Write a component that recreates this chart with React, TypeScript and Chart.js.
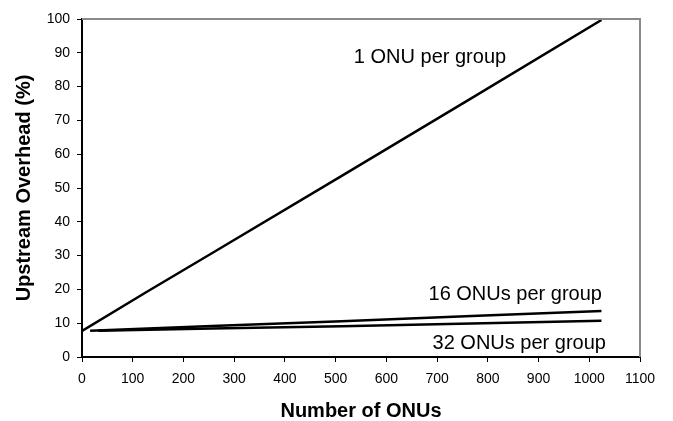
import React, { useEffect, useRef } from "react";
import { Chart, registerables } from "chart.js";

Chart.register(...registerables);

const seriesNames = ["1 ONU per group", "16 ONUs per group", "32 ONUs per group"];
const onuCounts1 = [1, 128, 256, 512, 768, 1024];
const overhead1 = [7.8, 19.3, 30.7, 53.6, 76.6, 99.7];
const onuCounts16 = [16, 256, 512, 768, 1024];
const overhead16 = [7.8, 9.2, 10.6, 12.1, 13.6];
const onuCounts32 = [32, 256, 512, 768, 1024];
const overhead32 = [7.8, 8.4, 9.1, 9.9, 10.7];
// label anchor points (data coordinates) for in-chart series labels
const labelX = [686, 854, 862];
const labelY = [87.1, 17.0, 2.5];

const xTicksMax = 1100;
const yTicksMax = 100;

const FONT = "'Liberation Sans', Arial, sans-serif";

const toPoints = (xs: number[], ys: number[]) => xs.map((x, i) => ({ x, y: ys[i] }));

const framePlugin = {
  id: "frameAndLabels",
  afterDatasetsDraw(chart: any) {
    const { ctx, chartArea, scales } = chart;
    ctx.save();
    ctx.strokeStyle = "#8a8a8a";
    ctx.lineWidth = 2;
    ctx.beginPath();
    ctx.moveTo(chartArea.left, chartArea.top);
    ctx.lineTo(chartArea.right, chartArea.top);
    ctx.lineTo(chartArea.right, chartArea.bottom);
    ctx.stroke();
    ctx.fillStyle = "#000";
    ctx.font = `20px ${FONT}`;
    ctx.textAlign = "center";
    ctx.textBaseline = "alphabetic";
    seriesNames.forEach((name, i) => {
      ctx.fillText(name, scales.x.getPixelForValue(labelX[i]), scales.y.getPixelForValue(labelY[i]));
    });
    ctx.restore();
  },
};

export default function App() {
  const ref = useRef<HTMLCanvasElement | null>(null);
  useEffect(() => {
    document.body.style.margin = "0";
    const mk = (name: string, data: any) => ({
      label: name,
      data,
      borderColor: "#000",
      backgroundColor: "#000",
      borderWidth: 2.5,
      pointRadius: 0,
      tension: 0,
      fill: false,
    });
    const chart = new Chart(ref.current as HTMLCanvasElement, {
      type: "line",
      data: {
        datasets: [
          mk(seriesNames[0], toPoints(onuCounts1, overhead1)),
          mk(seriesNames[1], toPoints(onuCounts16, overhead16)),
          mk(seriesNames[2], toPoints(onuCounts32, overhead32)),
        ],
      },
      options: {
        animation: false,
        responsive: false,
        maintainAspectRatio: false,
        layout: { padding: { left: 8, top: 19, right: 33, bottom: 0 } },
        plugins: { legend: { display: false }, tooltip: { enabled: false } },
        scales: {
          x: {
            type: "linear",
            min: 0,
            max: xTicksMax,
            afterFit: (s: any) => {
              s.height = 64;
            },
            ticks: {
              stepSize: 100,
              color: "#000",
              font: { family: FONT, size: 14 },
              padding: 9,
              maxRotation: 0,
              callback: (v: any) => String(v),
            },
            grid: { display: true, drawOnChartArea: false, drawTicks: true, tickLength: 5, color: "#000", lineWidth: 1 },
            border: { display: true, color: "#000", width: 2 },
            title: {
              display: true,
              text: "Number of ONUs",
              color: "#000",
              font: { family: FONT, size: 20, weight: "bold", lineHeight: 1 },
              padding: { top: 1, bottom: 0 },
            },
          },
          y: {
            type: "linear",
            min: 0,
            max: yTicksMax,
            afterFit: (s: any) => {
              s.width = 74;
            },
            ticks: { stepSize: 10, color: "#000", font: { family: FONT, size: 14 }, padding: 7, callback: (v: any) => String(v) },
            grid: { display: true, drawOnChartArea: false, drawTicks: true, tickLength: 5, color: "#000", lineWidth: 1 },
            border: { display: true, color: "#000", width: 2 },
            title: {
              display: true,
              text: "Upstream Overhead (%)",
              color: "#000",
              font: { family: FONT, size: 20, weight: "bold", lineHeight: 1.2 },
              padding: { top: 4, bottom: 0 },
            },
          },
        },
      },
      plugins: [framePlugin],
    });
    return () => chart.destroy();
  }, []);
  return (
    <div style={{ position: "fixed", left: 0, top: 0, width: 673, height: 421, background: "#fff" }}>
      <canvas ref={ref} width={673} height={421} style={{ display: "block" }} />
    </div>
  );
}
